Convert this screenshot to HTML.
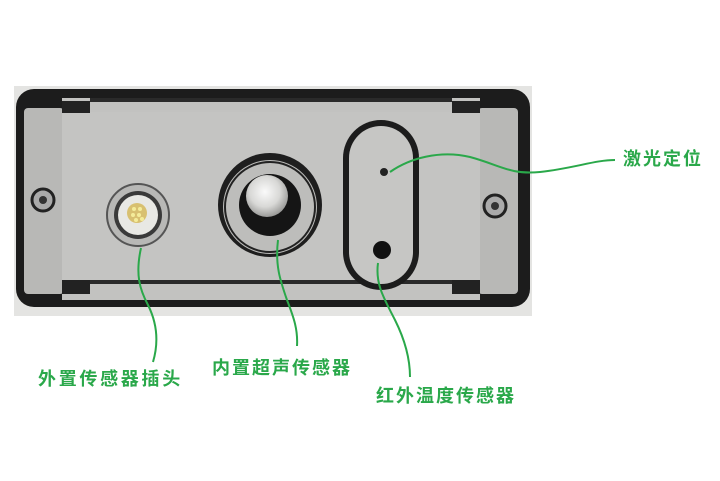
<!DOCTYPE html>
<html><head><meta charset="utf-8"><style>
html,body{margin:0;padding:0;background:#fff;}
.w{position:relative;width:720px;height:481px;overflow:hidden;}
.t{position:absolute;font-family:"Liberation Sans","Noto Sans CJK SC",sans-serif;font-weight:bold;font-size:18px;color:#2aa84a;line-height:20px;white-space:nowrap;letter-spacing:2px;}
</style></head><body><div class="w">
<svg width="720" height="481" style="position:absolute;left:0;top:0">
<defs>
<radialGradient id="ball" cx="0.45" cy="0.4" r="0.6"><stop offset="0" stop-color="#fafafa"/><stop offset="0.6" stop-color="#d8d8d6"/><stop offset="1" stop-color="#9a9a98"/></radialGradient>
</defs>
<rect x="14" y="86" width="518" height="230" fill="#e4e4e2"/>
<rect x="16" y="89" width="514" height="218" rx="18" fill="#1c1c1c"/>
<rect x="24" y="108" width="40" height="186" rx="4" fill="#b8b8b6"/>
<rect x="478" y="108" width="40" height="186" rx="4" fill="#b8b8b6"/>
<rect x="62" y="98" width="418" height="202" fill="#c2c2c0"/>
<rect x="62" y="112" width="418" height="168" fill="#c4c4c2"/>
<rect x="62" y="101" width="28" height="12" fill="#222"/>
<rect x="452" y="101" width="28" height="12" fill="#222"/>
<rect x="62" y="280" width="28" height="14" fill="#222"/>
<rect x="452" y="280" width="28" height="14" fill="#222"/>
<rect x="90" y="98" width="362" height="4" fill="#2a2a2a"/>
<rect x="90" y="280" width="362" height="4" fill="#2a2a2a"/>
<circle cx="43" cy="200" r="11" fill="#aaa" stroke="#222" stroke-width="3"/>
<circle cx="43" cy="200" r="4" fill="#333"/>
<circle cx="495" cy="206" r="11" fill="#aaa" stroke="#222" stroke-width="3"/>
<circle cx="495" cy="206" r="4" fill="#333"/>
<circle cx="138" cy="215" r="31" fill="#b8b8b6" stroke="#555" stroke-width="2"/>
<circle cx="138" cy="215" r="24" fill="#3a3a3a"/>
<circle cx="138" cy="215" r="20" fill="#e8e8e4"/>
<circle cx="137" cy="213" r="10" fill="#d8c070"/>
<g fill="#f4ec9a"><circle cx="134" cy="209" r="2"/><circle cx="140" cy="209" r="2"/><circle cx="133" cy="215" r="2"/><circle cx="139" cy="215" r="2"/><circle cx="136" cy="220" r="2"/><circle cx="142" cy="219" r="2"/></g>
<circle cx="270" cy="205" r="52" fill="#1e1e1e"/>
<circle cx="270" cy="207" r="47" fill="#bdbdbb"/>
<circle cx="270" cy="207" r="45" fill="none" stroke="#222" stroke-width="2"/>
<circle cx="270" cy="205" r="31" fill="#151515"/>
<circle cx="267" cy="196" r="21" fill="url(#ball)"/>
<rect x="343" y="120" width="76" height="170" rx="38" fill="#1c1c1c"/>
<rect x="349" y="126" width="64" height="158" rx="32" fill="#c6c6c4"/>
<circle cx="384" cy="172" r="4" fill="#222"/>
<circle cx="382" cy="250" r="9" fill="#111"/>
<g fill="none" stroke="#2aa84a" stroke-width="2">
<path d="M390 172 C410 158,440 150,470 157 C500 165,510 175,540 172 C575 168,595 160,615 160"/>
<path d="M141 248 C135 275,140 290,148 305 C158 325,158 345,153 362"/>
<path d="M278 240 C275 265,280 280,287 300 C294 318,298 330,297 346"/>
<path d="M378 263 C375 285,385 300,395 320 C405 340,410 360,410 377"/>
</g>
</svg>
<div class="t" style="left:38px;top:369px;letter-spacing:2.7px">外置传感器插头</div>
<div class="t" style="left:212px;top:358px">内置超声传感器</div>
<div class="t" style="left:376px;top:386px">红外温度传感器</div>
<div class="t" style="left:623px;top:149px">激光定位</div>
</div></body></html>
